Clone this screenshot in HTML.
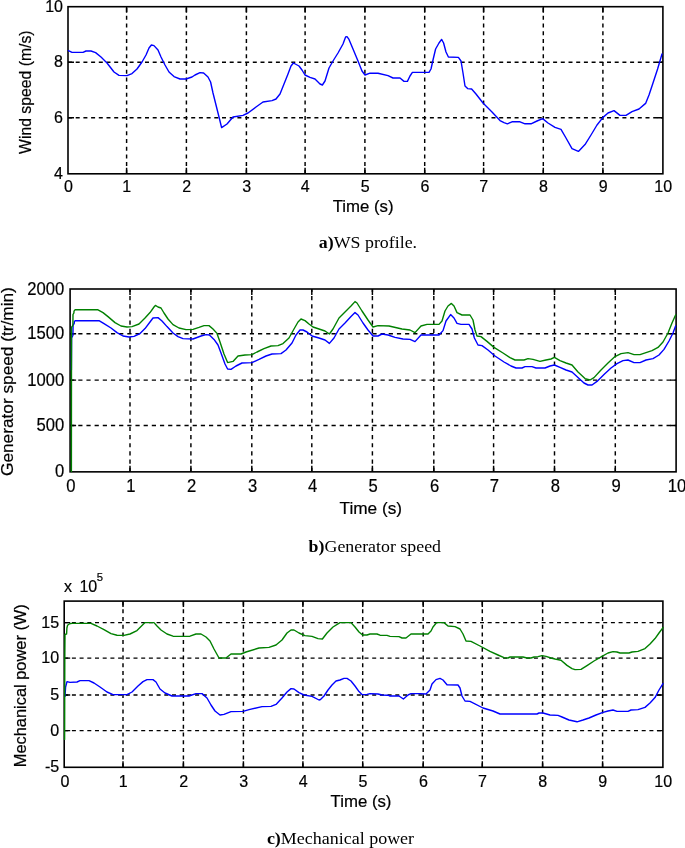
<!DOCTYPE html>
<html><head><meta charset="utf-8"><title>Figure</title>
<style>
html,body{margin:0;padding:0;background:#fff;}
svg{display:block;will-change:transform}
.f{font-family:"Liberation Sans", sans-serif;fill:#000;stroke:#000;stroke-width:0.2px}
.r{font-family:"Liberation Serif", serif;fill:#000}
.g{stroke:#000;fill:none}
.a{stroke:#000;fill:none}
</style></head><body>
<svg width="685" height="848" viewBox="0 0 685 848">
<rect width="685" height="848" fill="#fff"/>
<path d="M126.60 173.80 V6.70" class="g" stroke-dasharray="4.0 3.7" stroke-width="1.45"/>
<path d="M186.40 173.80 V6.70" class="g" stroke-dasharray="4.0 3.7" stroke-width="1.45"/>
<path d="M246.40 173.80 V6.70" class="g" stroke-dasharray="4.0 3.7" stroke-width="1.45"/>
<path d="M305.10 173.80 V6.70" class="g" stroke-dasharray="4.0 3.7" stroke-width="1.45"/>
<path d="M364.90 173.80 V6.70" class="g" stroke-dasharray="4.0 3.7" stroke-width="1.45"/>
<path d="M424.70 173.80 V6.70" class="g" stroke-dasharray="4.0 3.7" stroke-width="1.45"/>
<path d="M483.60 173.80 V6.70" class="g" stroke-dasharray="4.0 3.7" stroke-width="1.45"/>
<path d="M543.30 173.80 V6.70" class="g" stroke-dasharray="4.0 3.7" stroke-width="1.45"/>
<path d="M602.90 173.80 V6.70" class="g" stroke-dasharray="4.0 3.7" stroke-width="1.45"/>
<path d="M68.00 62.30 H662.90" class="g" stroke-dasharray="4.0 3.7" stroke-width="1.45"/>
<path d="M68.00 117.70 H662.90" class="g" stroke-dasharray="4.0 3.7" stroke-width="1.45"/>
<path d="M126.60 173.80 v-6 M126.60 6.70 v6" class="a" stroke-width="1.45"/>
<path d="M186.40 173.80 v-6 M186.40 6.70 v6" class="a" stroke-width="1.45"/>
<path d="M246.40 173.80 v-6 M246.40 6.70 v6" class="a" stroke-width="1.45"/>
<path d="M305.10 173.80 v-6 M305.10 6.70 v6" class="a" stroke-width="1.45"/>
<path d="M364.90 173.80 v-6 M364.90 6.70 v6" class="a" stroke-width="1.45"/>
<path d="M424.70 173.80 v-6 M424.70 6.70 v6" class="a" stroke-width="1.45"/>
<path d="M483.60 173.80 v-6 M483.60 6.70 v6" class="a" stroke-width="1.45"/>
<path d="M543.30 173.80 v-6 M543.30 6.70 v6" class="a" stroke-width="1.45"/>
<path d="M602.90 173.80 v-6 M602.90 6.70 v6" class="a" stroke-width="1.45"/>
<path d="M68.00 62.30 h6 M662.90 62.30 h-6" class="a" stroke-width="1.45"/>
<path d="M68.00 117.70 h6 M662.90 117.70 h-6" class="a" stroke-width="1.45"/>
<rect x="68.00" y="6.70" width="594.90" height="167.10" fill="none" class="a" stroke-width="1.6"/>
<path d="M68.4 50.6 L72.0 52.4 L83.0 52.4 L86.0 51.0 L91.0 51.0 L95.6 52.6 L101.0 57.0 L107.0 63.0 L114.0 72.0 L119.0 75.4 L127.0 75.6 L132.0 73.6 L137.0 69.0 L142.0 62.0 L146.0 55.0 L149.0 48.0 L151.4 45.0 L154.0 45.6 L158.0 50.0 L161.0 57.0 L165.0 65.0 L169.0 72.0 L174.0 76.6 L180.0 79.0 L186.0 79.0 L192.0 77.0 L195.0 75.0 L200.0 72.6 L203.6 73.0 L208.0 77.0 L210.6 82.0 L213.0 93.0 L217.0 109.0 L220.0 121.0 L221.6 127.6 L227.0 124.0 L233.0 117.0 L243.0 115.4 L248.0 113.0 L256.0 107.0 L263.0 102.0 L272.0 100.6 L276.0 99.0 L280.0 94.0 L284.0 84.0 L288.0 74.0 L291.0 66.0 L293.4 63.0 L299.0 66.0 L302.0 70.0 L305.0 75.0 L310.0 77.4 L315.0 79.0 L320.0 84.0 L322.4 85.0 L325.0 81.0 L329.0 68.0 L333.0 61.0 L338.0 53.0 L343.0 44.0 L345.6 37.0 L347.0 36.6 L349.0 39.4 L353.0 49.0 L358.0 61.0 L362.0 71.0 L365.0 75.0 L370.0 73.2 L378.0 73.2 L388.0 75.6 L393.0 78.0 L400.0 78.0 L404.0 81.4 L407.4 81.4 L410.0 76.0 L412.4 72.4 L429.0 72.4 L431.0 69.0 L433.0 60.0 L435.6 49.0 L439.0 43.0 L441.6 39.4 L443.6 43.0 L446.0 52.0 L448.4 57.0 L458.4 57.4 L461.0 61.0 L463.0 73.0 L465.0 86.0 L467.6 88.6 L471.6 89.0 L476.0 94.0 L483.0 103.0 L492.0 112.0 L500.0 120.6 L504.0 122.6 L507.4 123.8 L512.0 121.8 L520.0 121.8 L525.0 123.8 L531.0 123.8 L537.0 121.0 L542.6 118.6 L548.0 123.0 L555.0 127.4 L561.0 129.4 L566.0 138.0 L572.0 148.6 L578.4 151.4 L585.0 144.6 L591.0 135.0 L597.0 125.0 L603.0 117.4 L608.0 113.0 L614.0 110.6 L620.0 115.4 L626.0 115.4 L632.0 111.6 L639.0 109.0 L645.6 103.4 L649.0 95.0 L653.0 83.0 L657.6 69.0 L662.0 54.0" fill="none" stroke="#0000ff" stroke-width="1.4" stroke-linejoin="round" stroke-linecap="round"/>
<text class="f" transform="translate(63.00 11.70)" font-size="16" text-anchor="end">10</text>
<text class="f" transform="translate(63.00 67.30)" font-size="16" text-anchor="end">8</text>
<text class="f" transform="translate(63.00 122.70)" font-size="16" text-anchor="end">6</text>
<text class="f" transform="translate(63.00 178.80)" font-size="16" text-anchor="end">4</text>
<text class="f" transform="translate(68.50 192.00)" font-size="16" text-anchor="middle">0</text>
<text class="f" transform="translate(126.80 192.00)" font-size="16" text-anchor="middle">1</text>
<text class="f" transform="translate(186.60 192.00)" font-size="16" text-anchor="middle">2</text>
<text class="f" transform="translate(246.60 192.00)" font-size="16" text-anchor="middle">3</text>
<text class="f" transform="translate(305.30 192.00)" font-size="16" text-anchor="middle">4</text>
<text class="f" transform="translate(365.10 192.00)" font-size="16" text-anchor="middle">5</text>
<text class="f" transform="translate(424.90 192.00)" font-size="16" text-anchor="middle">6</text>
<text class="f" transform="translate(483.80 192.00)" font-size="16" text-anchor="middle">7</text>
<text class="f" transform="translate(543.50 192.00)" font-size="16" text-anchor="middle">8</text>
<text class="f" transform="translate(603.10 192.00)" font-size="16" text-anchor="middle">9</text>
<text class="f" transform="translate(663.20 192.00)" font-size="16" text-anchor="middle">10</text>
<text class="f" transform="translate(363.10 211.90) scale(1.05 1)" font-size="16" text-anchor="middle">Time (s)</text>
<text class="f" transform="translate(30.50 92.20) rotate(-90) scale(0.985 1)" font-size="16" text-anchor="middle">Wind speed (m/s)</text>
<text class="r" transform="translate(318.80 248.30) scale(1.033 1)" font-size="17.3" text-anchor="start"><tspan font-weight="bold">a)</tspan>WS profile.</text>
<path d="M130.00 471.85 V289.00" class="g" stroke-dasharray="4.2 3.97" stroke-width="1.45"/>
<path d="M190.90 471.85 V289.00" class="g" stroke-dasharray="4.2 3.97" stroke-width="1.45"/>
<path d="M251.80 471.85 V289.00" class="g" stroke-dasharray="4.2 3.97" stroke-width="1.45"/>
<path d="M311.80 471.85 V289.00" class="g" stroke-dasharray="4.2 3.97" stroke-width="1.45"/>
<path d="M372.40 471.85 V289.00" class="g" stroke-dasharray="4.2 3.97" stroke-width="1.45"/>
<path d="M433.80 471.85 V289.00" class="g" stroke-dasharray="4.2 3.97" stroke-width="1.45"/>
<path d="M493.60 471.85 V289.00" class="g" stroke-dasharray="4.2 3.97" stroke-width="1.45"/>
<path d="M554.50 471.85 V289.00" class="g" stroke-dasharray="4.2 3.97" stroke-width="1.45"/>
<path d="M615.30 471.85 V289.00" class="g" stroke-dasharray="4.2 3.97" stroke-width="1.45"/>
<path d="M70.10 333.70 H676.10" class="g" stroke-dasharray="4.2 3.97" stroke-width="1.45"/>
<path d="M70.10 380.10 H676.10" class="g" stroke-dasharray="4.2 3.97" stroke-width="1.45"/>
<path d="M70.10 425.40 H676.10" class="g" stroke-dasharray="4.2 3.97" stroke-width="1.45"/>
<path d="M130.00 471.85 v-6 M130.00 289.00 v6" class="a" stroke-width="1.45"/>
<path d="M190.90 471.85 v-6 M190.90 289.00 v6" class="a" stroke-width="1.45"/>
<path d="M251.80 471.85 v-6 M251.80 289.00 v6" class="a" stroke-width="1.45"/>
<path d="M311.80 471.85 v-6 M311.80 289.00 v6" class="a" stroke-width="1.45"/>
<path d="M372.40 471.85 v-6 M372.40 289.00 v6" class="a" stroke-width="1.45"/>
<path d="M433.80 471.85 v-6 M433.80 289.00 v6" class="a" stroke-width="1.45"/>
<path d="M493.60 471.85 v-6 M493.60 289.00 v6" class="a" stroke-width="1.45"/>
<path d="M554.50 471.85 v-6 M554.50 289.00 v6" class="a" stroke-width="1.45"/>
<path d="M615.30 471.85 v-6 M615.30 289.00 v6" class="a" stroke-width="1.45"/>
<path d="M70.10 333.70 h6 M676.10 333.70 h-6" class="a" stroke-width="1.45"/>
<path d="M70.10 380.10 h6 M676.10 380.10 h-6" class="a" stroke-width="1.45"/>
<path d="M70.10 425.40 h6 M676.10 425.40 h-6" class="a" stroke-width="1.45"/>
<rect x="70.10" y="289.00" width="606.00" height="182.85" fill="none" class="a" stroke-width="1.6"/>
<path d="M71.4 370.0 L71.6 338.0 L72.9 335.5 L73.1 325.0 L74.2 323.5 L74.4 321.5 L75.2 320.7 L99.0 320.7 L104.0 323.6 L111.0 328.0 L117.0 332.6 L123.0 336.0 L129.0 337.0 L134.0 336.4 L140.0 333.6 L145.0 328.6 L150.0 322.0 L153.0 318.0 L158.0 317.6 L162.0 321.0 L167.0 326.6 L173.0 333.0 L178.0 336.6 L183.0 338.6 L193.0 339.0 L201.0 336.0 L206.0 334.6 L209.4 335.0 L214.0 339.4 L218.0 345.0 L221.0 353.0 L225.0 364.0 L227.6 369.0 L231.0 369.4 L236.0 366.0 L242.0 363.0 L252.0 362.6 L259.0 359.4 L266.0 356.0 L272.0 354.0 L281.0 353.6 L286.0 350.0 L292.0 343.0 L296.0 335.0 L300.0 330.0 L303.0 330.0 L307.0 332.0 L312.0 336.0 L319.0 338.0 L325.0 340.0 L329.4 343.4 L334.0 338.0 L339.0 329.0 L345.0 323.0 L351.0 316.6 L355.0 312.6 L358.0 315.0 L363.0 323.0 L368.0 330.0 L373.0 336.0 L378.0 336.0 L382.0 334.0 L388.0 335.0 L395.0 337.4 L403.0 339.0 L410.0 339.4 L415.0 341.6 L421.0 335.0 L439.0 335.0 L443.0 330.6 L446.0 321.0 L450.6 314.6 L454.0 318.0 L457.0 323.4 L461.0 324.4 L469.0 324.4 L472.0 329.0 L474.4 338.0 L478.0 345.0 L482.0 345.6 L488.0 350.0 L495.0 356.0 L504.0 362.0 L511.0 366.0 L516.0 368.0 L522.0 368.0 L525.0 366.6 L532.0 366.6 L536.0 368.0 L545.0 368.0 L550.0 366.0 L554.4 365.0 L560.0 367.4 L566.0 370.0 L572.0 372.0 L578.0 377.4 L584.0 383.0 L588.0 385.0 L592.0 385.0 L597.0 381.4 L604.0 374.6 L611.0 368.0 L617.0 363.6 L623.0 360.6 L628.0 360.0 L634.0 362.6 L640.0 362.6 L646.0 360.0 L653.0 358.6 L659.0 355.0 L664.0 349.4 L669.0 341.0 L673.0 333.0 L675.6 326.0" fill="none" stroke="#0000ff" stroke-width="1.4" stroke-linejoin="round" stroke-linecap="round"/>
<path d="M71.4 471.5 L71.5 330.0 L71.7 327.0 L72.9 325.5 L73.0 314.5 L73.9 313.0 L74.0 311.2 L75.0 309.8 L98.0 309.8 L103.0 312.6 L108.0 316.6 L115.0 322.6 L121.0 326.0 L127.0 327.0 L132.0 326.6 L139.0 324.0 L145.0 318.0 L150.0 312.6 L154.0 307.0 L155.4 305.4 L158.0 307.0 L161.0 308.0 L164.0 313.0 L168.0 319.0 L173.0 324.6 L179.0 328.0 L186.0 329.6 L193.0 329.4 L199.0 327.4 L204.0 325.6 L209.0 325.6 L213.0 329.0 L217.0 333.4 L220.0 342.0 L224.0 354.0 L227.6 362.6 L233.0 361.4 L238.0 356.0 L245.0 355.0 L252.0 354.6 L257.0 352.0 L264.0 348.6 L271.0 346.0 L278.0 345.6 L283.0 343.6 L289.0 338.0 L294.0 329.0 L298.0 322.0 L301.0 319.0 L305.0 320.6 L309.0 324.0 L313.0 327.0 L319.0 329.0 L325.0 331.0 L329.4 334.0 L333.0 329.0 L339.0 318.0 L345.0 312.0 L351.0 306.0 L355.0 301.6 L357.0 303.0 L362.0 311.0 L368.0 320.0 L373.0 327.0 L378.0 325.6 L389.0 326.0 L402.0 329.0 L410.0 330.0 L415.0 332.6 L421.0 326.0 L427.0 324.4 L439.0 324.4 L442.0 321.0 L445.0 311.0 L448.0 306.0 L451.4 303.4 L454.0 306.0 L457.0 312.6 L462.0 315.0 L470.0 315.0 L473.0 320.0 L475.0 330.0 L477.0 336.0 L481.0 336.6 L487.0 341.4 L494.0 347.4 L503.0 353.0 L510.0 357.6 L515.0 360.0 L524.0 360.0 L528.0 358.6 L533.0 359.4 L540.0 361.4 L546.0 360.0 L551.0 359.0 L554.4 357.4 L560.0 360.6 L566.0 363.0 L572.0 365.0 L578.0 372.0 L585.0 378.6 L590.0 380.0 L594.0 377.6 L601.0 370.0 L608.0 363.0 L615.0 356.6 L621.0 353.6 L628.0 352.6 L634.0 354.6 L640.0 354.6 L646.0 352.6 L652.0 350.6 L658.0 347.4 L663.0 342.0 L668.0 333.0 L672.0 323.0 L675.6 315.0" fill="none" stroke="#008000" stroke-width="1.4" stroke-linejoin="round" stroke-linecap="round"/>
<text class="f" transform="translate(64.20 294.50) scale(0.925 1)" font-size="18" text-anchor="end">2000</text>
<text class="f" transform="translate(64.20 339.20) scale(0.925 1)" font-size="18" text-anchor="end">1500</text>
<text class="f" transform="translate(64.20 385.60) scale(0.925 1)" font-size="18" text-anchor="end">1000</text>
<text class="f" transform="translate(64.20 430.90) scale(0.925 1)" font-size="18" text-anchor="end">500</text>
<text class="f" transform="translate(64.20 477.35) scale(0.925 1)" font-size="18" text-anchor="end">0</text>
<text class="f" transform="translate(70.90 491.70) scale(0.925 1)" font-size="18" text-anchor="middle">0</text>
<text class="f" transform="translate(130.80 491.70) scale(0.925 1)" font-size="18" text-anchor="middle">1</text>
<text class="f" transform="translate(191.70 491.70) scale(0.925 1)" font-size="18" text-anchor="middle">2</text>
<text class="f" transform="translate(252.60 491.70) scale(0.925 1)" font-size="18" text-anchor="middle">3</text>
<text class="f" transform="translate(312.60 491.70) scale(0.925 1)" font-size="18" text-anchor="middle">4</text>
<text class="f" transform="translate(373.20 491.70) scale(0.925 1)" font-size="18" text-anchor="middle">5</text>
<text class="f" transform="translate(434.60 491.70) scale(0.925 1)" font-size="18" text-anchor="middle">6</text>
<text class="f" transform="translate(494.40 491.70) scale(0.925 1)" font-size="18" text-anchor="middle">7</text>
<text class="f" transform="translate(555.30 491.70) scale(0.925 1)" font-size="18" text-anchor="middle">8</text>
<text class="f" transform="translate(616.10 491.70) scale(0.925 1)" font-size="18" text-anchor="middle">9</text>
<text class="f" transform="translate(677.00 491.70) scale(0.925 1)" font-size="18" text-anchor="middle">10</text>
<text class="f" transform="translate(370.80 514.30) scale(1.015 1)" font-size="17.0" text-anchor="middle">Time (s)</text>
<text class="f" transform="translate(12.90 381.60) rotate(-90) scale(1.04 1)" font-size="16.6" text-anchor="middle">Generator speed (tr/min)</text>
<text class="r" transform="translate(308.60 552.00) scale(1.033 1)" font-size="17.3" text-anchor="start"><tspan font-weight="bold">b)</tspan>Generator speed</text>
<path d="M123.00 767.30 V601.10" class="g" stroke-dasharray="4.0 3.7" stroke-width="1.45"/>
<path d="M183.40 767.30 V601.10" class="g" stroke-dasharray="4.0 3.7" stroke-width="1.45"/>
<path d="M243.40 767.30 V601.10" class="g" stroke-dasharray="4.0 3.7" stroke-width="1.45"/>
<path d="M302.90 767.30 V601.10" class="g" stroke-dasharray="4.0 3.7" stroke-width="1.45"/>
<path d="M362.70 767.30 V601.10" class="g" stroke-dasharray="4.0 3.7" stroke-width="1.45"/>
<path d="M423.20 767.30 V601.10" class="g" stroke-dasharray="4.0 3.7" stroke-width="1.45"/>
<path d="M482.30 767.30 V601.10" class="g" stroke-dasharray="4.0 3.7" stroke-width="1.45"/>
<path d="M542.60 767.30 V601.10" class="g" stroke-dasharray="4.0 3.7" stroke-width="1.45"/>
<path d="M602.60 767.30 V601.10" class="g" stroke-dasharray="4.0 3.7" stroke-width="1.45"/>
<path d="M64.20 622.60 H662.90" class="g" stroke-dasharray="4.0 3.7" stroke-width="1.45"/>
<path d="M64.20 658.10 H662.90" class="g" stroke-dasharray="4.0 3.7" stroke-width="1.45"/>
<path d="M64.20 695.00 H662.90" class="g" stroke-dasharray="4.0 3.7" stroke-width="1.45"/>
<path d="M64.20 730.60 H662.90" class="g" stroke-dasharray="4.0 3.7" stroke-width="1.45"/>
<path d="M123.00 767.30 v-6 M123.00 601.10 v6" class="a" stroke-width="1.45"/>
<path d="M183.40 767.30 v-6 M183.40 601.10 v6" class="a" stroke-width="1.45"/>
<path d="M243.40 767.30 v-6 M243.40 601.10 v6" class="a" stroke-width="1.45"/>
<path d="M302.90 767.30 v-6 M302.90 601.10 v6" class="a" stroke-width="1.45"/>
<path d="M362.70 767.30 v-6 M362.70 601.10 v6" class="a" stroke-width="1.45"/>
<path d="M423.20 767.30 v-6 M423.20 601.10 v6" class="a" stroke-width="1.45"/>
<path d="M482.30 767.30 v-6 M482.30 601.10 v6" class="a" stroke-width="1.45"/>
<path d="M542.60 767.30 v-6 M542.60 601.10 v6" class="a" stroke-width="1.45"/>
<path d="M602.60 767.30 v-6 M602.60 601.10 v6" class="a" stroke-width="1.45"/>
<path d="M64.20 622.60 h6 M662.90 622.60 h-6" class="a" stroke-width="1.45"/>
<path d="M64.20 658.10 h6 M662.90 658.10 h-6" class="a" stroke-width="1.45"/>
<path d="M64.20 695.00 h6 M662.90 695.00 h-6" class="a" stroke-width="1.45"/>
<path d="M64.20 730.60 h6 M662.90 730.60 h-6" class="a" stroke-width="1.45"/>
<rect x="64.20" y="601.10" width="598.70" height="166.20" fill="none" class="a" stroke-width="1.6"/>
<path d="M65.0 696.4 L65.6 687.0 L67.0 681.6 L70.0 682.4 L77.0 682.0 L80.0 680.6 L89.0 680.6 L94.0 683.0 L100.0 687.0 L107.0 692.0 L113.0 694.6 L127.0 694.6 L132.0 692.0 L138.0 686.0 L143.0 681.6 L147.0 679.6 L153.0 679.6 L156.0 682.0 L160.0 689.0 L165.0 693.0 L172.0 696.0 L189.0 696.0 L196.0 693.6 L202.0 693.6 L207.0 698.0 L211.0 705.0 L215.0 711.0 L220.0 715.0 L224.0 714.4 L231.0 711.6 L243.0 711.4 L250.0 709.4 L262.0 706.6 L271.0 706.4 L276.0 704.4 L282.0 698.0 L287.0 692.0 L291.0 688.6 L294.0 689.0 L299.0 692.6 L304.0 695.0 L312.0 696.4 L319.0 700.0 L320.5 699.5 L324.0 696.0 L328.0 690.0 L332.0 685.0 L336.0 681.0 L340.0 680.0 L344.0 678.4 L347.0 678.4 L351.0 681.0 L355.0 686.0 L359.0 691.6 L362.0 694.6 L367.0 694.4 L370.0 693.6 L378.0 694.0 L382.0 695.0 L388.0 695.2 L390.0 696.0 L399.0 696.0 L403.4 699.0 L408.0 695.0 L411.0 693.6 L420.0 693.6 L426.0 694.0 L430.0 690.0 L432.0 684.0 L436.0 679.6 L440.0 678.4 L443.0 680.0 L447.0 684.8 L458.0 685.0 L460.0 688.0 L462.0 696.0 L465.0 701.0 L470.0 701.4 L483.0 708.0 L493.0 711.0 L500.0 714.0 L537.0 714.0 L539.0 713.0 L543.0 713.0 L550.0 715.0 L558.0 715.4 L562.0 717.0 L569.0 720.0 L577.0 721.8 L583.0 720.0 L589.0 718.0 L596.0 715.0 L603.0 712.4 L608.0 711.0 L613.0 710.0 L617.0 711.4 L628.0 711.4 L631.0 710.0 L638.0 709.6 L645.0 707.4 L650.0 703.0 L655.0 697.6 L659.0 690.0 L663.0 683.6" fill="none" stroke="#0000ff" stroke-width="1.4" stroke-linejoin="round" stroke-linecap="round"/>
<path d="M64.6 739.4 L64.8 658.0 L65.0 634.4 L66.6 634.0 L66.9 628.0 L67.6 625.2 L69.5 623.7 L72.0 623.4 L91.0 623.4 L97.0 626.0 L104.0 629.6 L111.0 633.6 L117.0 635.2 L124.0 635.4 L130.0 634.0 L137.0 630.6 L142.0 625.6 L145.0 622.6 L154.0 622.6 L157.0 626.0 L161.0 630.0 L167.0 634.0 L173.0 636.2 L182.0 636.4 L190.0 636.2 L196.0 634.0 L201.0 634.0 L206.0 637.0 L210.0 641.0 L214.0 649.0 L219.0 658.0 L226.0 658.0 L231.0 654.0 L241.0 654.0 L246.0 652.0 L259.0 648.0 L269.0 647.4 L276.0 645.0 L282.0 640.0 L287.0 633.0 L291.0 630.0 L294.0 630.0 L299.0 633.0 L305.0 635.6 L312.0 636.4 L318.0 638.6 L322.4 639.0 L327.0 633.0 L333.0 627.0 L340.0 622.6 L351.0 622.6 L355.0 627.0 L359.0 632.0 L362.6 635.0 L367.0 635.0 L370.0 634.0 L377.0 634.0 L380.0 635.2 L387.0 635.4 L390.0 636.4 L399.0 636.6 L402.0 638.0 L406.0 638.0 L411.0 634.0 L428.0 634.0 L431.0 631.0 L433.0 627.0 L436.6 622.6 L444.0 622.6 L448.0 626.0 L455.0 626.6 L460.0 629.0 L463.0 634.0 L466.0 641.0 L471.0 641.4 L480.0 646.0 L490.0 651.4 L498.0 655.0 L504.0 657.6 L508.0 658.0 L510.0 657.0 L523.0 657.0 L527.0 658.0 L531.0 658.0 L534.0 657.0 L538.0 656.6 L542.0 655.6 L546.0 656.4 L551.0 658.0 L555.0 659.0 L561.0 660.2 L567.0 665.4 L572.0 668.6 L575.0 669.6 L581.0 669.4 L587.0 665.6 L594.0 661.0 L602.0 656.4 L608.0 653.0 L613.0 651.6 L617.0 652.0 L620.0 653.0 L629.0 653.0 L632.0 652.0 L638.0 651.4 L645.0 648.6 L650.0 644.0 L655.0 638.6 L659.0 633.0 L663.0 627.6" fill="none" stroke="#008000" stroke-width="1.4" stroke-linejoin="round" stroke-linecap="round"/>
<text class="f" transform="translate(59.20 627.50) scale(0.98 1)" font-size="16.4" text-anchor="end">15</text>
<text class="f" transform="translate(59.20 663.00) scale(0.98 1)" font-size="16.4" text-anchor="end">10</text>
<text class="f" transform="translate(59.20 699.90) scale(0.98 1)" font-size="16.4" text-anchor="end">5</text>
<text class="f" transform="translate(59.20 735.50) scale(0.98 1)" font-size="16.4" text-anchor="end">0</text>
<text class="f" transform="translate(59.20 772.20) scale(0.98 1)" font-size="16.4" text-anchor="end">-5</text>
<text class="f" transform="translate(64.90 786.50) scale(0.98 1)" font-size="16.4" text-anchor="middle">0</text>
<text class="f" transform="translate(123.20 786.50) scale(0.98 1)" font-size="16.4" text-anchor="middle">1</text>
<text class="f" transform="translate(183.60 786.50) scale(0.98 1)" font-size="16.4" text-anchor="middle">2</text>
<text class="f" transform="translate(243.60 786.50) scale(0.98 1)" font-size="16.4" text-anchor="middle">3</text>
<text class="f" transform="translate(303.10 786.50) scale(0.98 1)" font-size="16.4" text-anchor="middle">4</text>
<text class="f" transform="translate(362.90 786.50) scale(0.98 1)" font-size="16.4" text-anchor="middle">5</text>
<text class="f" transform="translate(423.40 786.50) scale(0.98 1)" font-size="16.4" text-anchor="middle">6</text>
<text class="f" transform="translate(482.50 786.50) scale(0.98 1)" font-size="16.4" text-anchor="middle">7</text>
<text class="f" transform="translate(542.80 786.50) scale(0.98 1)" font-size="16.4" text-anchor="middle">8</text>
<text class="f" transform="translate(602.80 786.50) scale(0.98 1)" font-size="16.4" text-anchor="middle">9</text>
<text class="f" transform="translate(663.20 786.50) scale(0.98 1)" font-size="16.4" text-anchor="middle">10</text>
<text class="f" transform="translate(361.00 807.30) scale(1.05 1)" font-size="16" text-anchor="middle">Time (s)</text>
<text class="f" transform="translate(25.90 685.70) rotate(-90) scale(1.025 1)" font-size="16" text-anchor="middle">Mechanical power (W)</text>
<text class="r" transform="translate(266.90 844.00) scale(1.04 1)" font-size="17.3" text-anchor="start"><tspan font-weight="bold">c)</tspan>Mechanical power</text>
<text class="f" transform="translate(64.00 591.70) scale(0.98 1)" font-size="16.4" text-anchor="start" word-spacing="3">x 10</text>
<text class="f" transform="translate(96.70 580.70) scale(0.98 1)" font-size="11.5" text-anchor="start">5</text>
</svg></body></html>
